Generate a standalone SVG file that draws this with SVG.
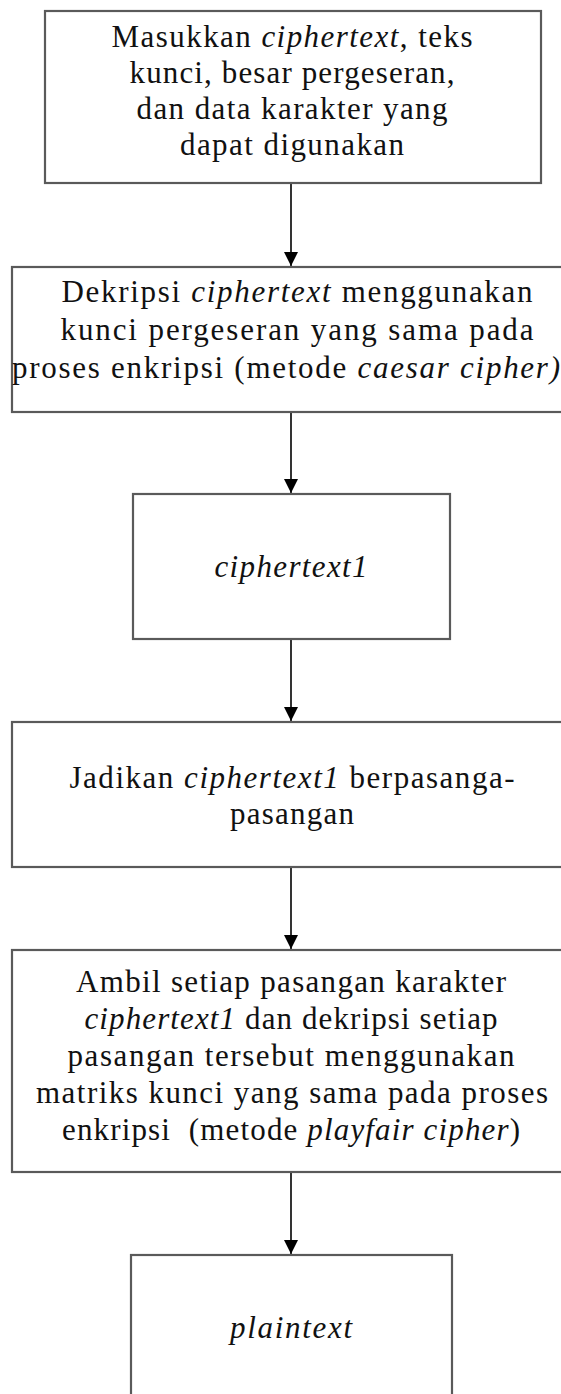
<svg xmlns="http://www.w3.org/2000/svg" width="561" height="1394" viewBox="0 0 561 1394">
  <style>
    .box { fill: #ffffff; stroke: #5a5a5a; stroke-width: 2.2; }
    .lbl { font-family: "Liberation Serif", "Times New Roman", serif; font-size: 31px; fill: #111111; text-anchor: middle; }
    .it { font-style: italic; }
    .conn { stroke: #000000; stroke-width: 1.6; fill: none; marker-end: url(#arrow); }
  </style>
  <defs>
    <marker id="arrow" markerUnits="userSpaceOnUse" markerWidth="14" markerHeight="16" refX="14" refY="7" orient="auto">
      <path d="M0,0 L14,7 L0,14 Z" fill="#000000"/>
    </marker>
  </defs>
  <rect width="561" height="1394" fill="#ffffff"/>

  <!-- flow arrows -->
  <g id="connectors">
    <line class="conn" x1="291" y1="184" x2="291" y2="266"/>
    <line class="conn" x1="291" y1="413" x2="291" y2="493"/>
    <line class="conn" x1="291" y1="640" x2="291" y2="721"/>
    <line class="conn" x1="291" y1="868" x2="291" y2="949"/>
    <line class="conn" x1="291" y1="1173" x2="291" y2="1254"/>
  </g>

  <g id="input">
    <rect class="box" x="45" y="11" width="496" height="172"/>
    <text class="lbl" x="292" y="47" textLength="361">Masukkan <tspan class="it">ciphertext</tspan>, teks</text>
    <text class="lbl" x="292" y="83" textLength="325">kunci, besar pergeseran,</text>
    <text class="lbl" x="292" y="119" textLength="311">dan data karakter yang</text>
    <text class="lbl" x="292" y="155" textLength="224">dapat digunakan</text>
  </g>

  <g id="caesar-decrypt">
    <rect class="box" x="12" y="267" width="560" height="145"/>
    <text class="lbl" x="297" y="302" textLength="471">Dekripsi <tspan class="it">ciphertext</tspan> menggunakan</text>
    <text class="lbl" x="297" y="340" textLength="473">kunci pergeseran yang sama pada</text>
    <text class="lbl" x="286" y="378" textLength="548">proses enkripsi (metode <tspan class="it">caesar cipher)</tspan></text>
  </g>

  <g id="ciphertext1">
    <rect class="box" x="133" y="494" width="317" height="145"/>
    <text class="lbl it" x="291" y="577" textLength="153">ciphertext1</text>
  </g>

  <g id="make-pairs">
    <rect class="box" x="12" y="722" width="560" height="145"/>
    <text class="lbl" x="292" y="788" textLength="445">Jadikan <tspan class="it">ciphertext1</tspan> berpasanga-</text>
    <text class="lbl" x="292" y="824" textLength="124">pasangan</text>
  </g>

  <g id="playfair-decrypt">
    <rect class="box" x="12" y="950" width="560" height="222"/>
    <text class="lbl" x="291" y="992" textLength="430">Ambil setiap pasangan karakter</text>
    <text class="lbl" x="291" y="1029" textLength="413"><tspan class="it">ciphertext1</tspan> dan dekripsi setiap</text>
    <text class="lbl" x="291" y="1066" textLength="447">pasangan tersebut menggunakan</text>
    <text class="lbl" x="292" y="1103" textLength="512">matriks kunci yang sama pada proses</text>
    <text class="lbl" x="291" y="1140" textLength="458" xml:space="preserve">enkripsi  (metode <tspan class="it">playfair cipher</tspan>)</text>
  </g>

  <g id="plaintext">
    <rect class="box" x="131" y="1255" width="321" height="160"/>
    <text class="lbl it" x="291" y="1338" textLength="122">plaintext</text>
  </g>
</svg>
